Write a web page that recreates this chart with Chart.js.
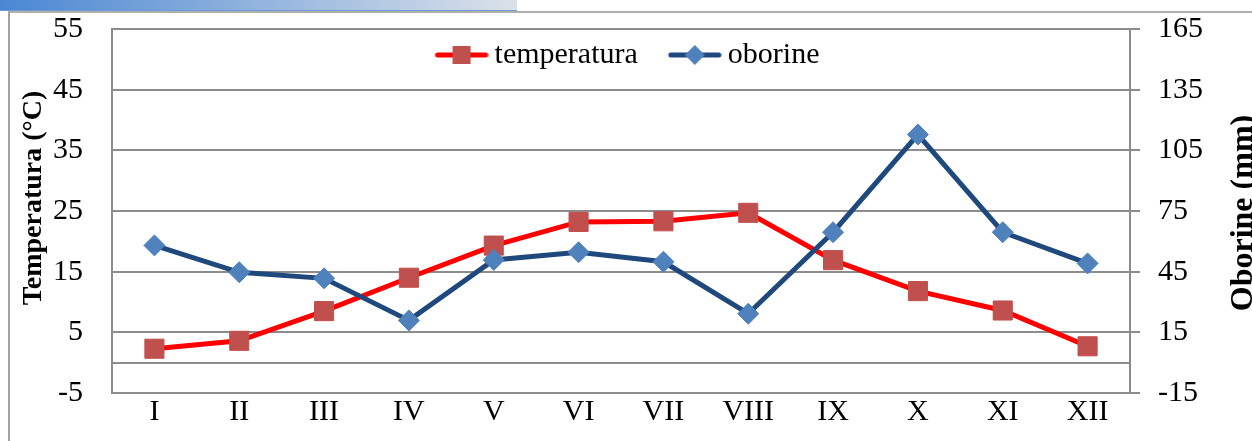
<!DOCTYPE html>
<html>
<head>
<meta charset="utf-8">
<script src="https://cdn.jsdelivr.net/npm/chart.js@4.4.1/dist/chart.umd.min.js"></script>
<style>
  html, body { margin: 0; padding: 0; background: #fff; }
  #wrap { position: relative; width: 1252px; height: 441px; overflow: hidden; }
  #topbar { position: absolute; left: 0; top: 0; width: 517px; height: 10px;
    background: linear-gradient(to right, #4a87d3, #dbe1e9); border-bottom: 1px solid #6d9ad3; }
  #frame { position: absolute; left: 8px; top: 11px; width: 1400px; height: 600px;
    border-left: 2px solid #a3a3a3; border-top: 2px solid #b0b0b0; }
  #chart { position: absolute; left: 0; top: 0; }
</style>
</head>
<body>
<div id="wrap">
  <div id="frame"></div>
  <div id="topbar"></div>
  <canvas id="chart" width="1252" height="441"></canvas>
</div>
<script>
'use strict';

// data
var months = ['I', 'II', 'III', 'IV', 'V', 'VI', 'VII', 'VIII', 'IX', 'X', 'XI', 'XII'];
var temperatura = [2.3, 3.6, 8.5, 14.0, 19.3, 23.2, 23.3, 24.7, 16.9, 11.8, 8.6, 2.7];
var oborine = [58.0, 44.7, 41.7, 20.9, 50.8, 54.6, 49.9, 24.2, 64.5, 112.8, 64.5, 49.1];
var tempTicks = [-5, 5, 15, 25, 35, 45, 55];
var oborineTicks = [-15, 15, 45, 75, 105, 135, 165];

var SERIF = '"Liberation Serif", "Times New Roman", serif';
var GRID = '#8c8c8c';

// legend icon: line with the marker in the middle
function legendIcon(lineColor, markerColor, shape) {
  var c = document.createElement('canvas');
  c.width = 56;
  c.height = 24;
  var g = c.getContext('2d');
  g.strokeStyle = lineColor;
  g.lineWidth = 5;
  g.lineCap = 'round';
  g.beginPath();
  g.moveTo(5, 12);
  g.lineTo(53, 12);
  g.stroke();
  g.fillStyle = markerColor;
  if (shape === 'rect') {
    g.fillRect(20, 3, 18, 18);
  } else {
    g.beginPath();
    g.moveTo(29, 2);
    g.lineTo(39, 12);
    g.lineTo(29, 22);
    g.lineTo(19, 12);
    g.closePath();
    g.fill();
  }
  return c;
}

var icons = [
  legendIcon('#ff0000', '#c0504d', 'rect'),
  legendIcon('#1f497d', '#4f81bd', 'diamond')
];

// y axes: keep the tick-label overhang from pushing the plot down
function fixY(width) {
  return function (scale) {
    scale.width = width;
    scale.paddingTop = 0;
    scale.paddingBottom = 0;
  };
}

// zero line, rotated axis titles, and let the legend draw over the plot top
var extras = {
  id: 'extras',
  beforeDraw: function (chart) {
    var lg = chart.legend;
    if (lg) {
      lg.height = 90;
      lg.bottom = lg.top + 90;
    }
  },
  beforeDatasetsDraw: function (chart) {
    var ctx = chart.ctx, area = chart.chartArea;
    var y0 = Math.round(chart.scales.y.getPixelForValue(0));
    ctx.save();
    ctx.strokeStyle = GRID;
    ctx.lineWidth = 2;
    ctx.beginPath();
    ctx.moveTo(area.left, y0);
    ctx.lineTo(area.right, y0);
    ctx.stroke();
    ctx.restore();
  },
  afterDraw: function (chart) {
    var ctx = chart.ctx;
    var titles = [
      { text: 'Temperatura (\u00B0C)', x: 34, y: 198, size: 28 },
      { text: 'Oborine (mm)', x: chart.width - 8, y: 213, size: 32 }
    ];
    ctx.save();
    ctx.fillStyle = '#000';
    ctx.textAlign = 'center';
    ctx.textBaseline = 'middle';
    titles.forEach(function (t) {
      ctx.save();
      ctx.font = 'bold ' + t.size + 'px ' + SERIF;
      ctx.translate(t.x, t.y);
      ctx.rotate(-Math.PI / 2);
      ctx.fillText(t.text, 0, 0);
      ctx.restore();
    });
    ctx.restore();
  }
};

var ctx = document.getElementById('chart').getContext('2d');
var chart = new Chart(ctx, {
  type: 'line',
  data: {
    labels: months,
    datasets: [{
      label: 'temperatura',
      data: temperatura,
      yAxisID: 'y',
      order: 2,
      borderColor: '#ff0000',
      borderWidth: 5,
      tension: 0,
      fill: false,
      pointStyle: 'rect',
      pointRadius: 13.5,
      pointBackgroundColor: '#c0504d',
      pointBorderColor: '#c0504d',
      pointBorderWidth: 1
    }, {
      label: 'oborine',
      data: oborine,
      yAxisID: 'y1',
      order: 1,
      borderColor: '#1f497d',
      borderWidth: 5,
      tension: 0,
      fill: false,
      pointStyle: 'rectRot',
      pointRadius: 10.5,
      pointBackgroundColor: '#4f81bd',
      pointBorderColor: '#4f81bd',
      pointBorderWidth: 1
    }]
  },
  options: {
    responsive: false,
    animation: false,
    devicePixelRatio: 1,
    layout: { padding: { left: 9, right: 0, top: 3, bottom: 0 } },
    plugins: {
      tooltip: { enabled: false },
      legend: {
        position: 'top',
        align: 'center',
        maxHeight: 26,
        labels: {
          usePointStyle: true,
          pointStyleWidth: 38,
          padding: 37,
          color: '#000',
          font: { family: SERIF, size: 30 },
          generateLabels: function (chart) {
            return chart.data.datasets.map(function (ds, i) {
              return {
                text: ds.label,
                pointStyle: icons[i],
                fillStyle: 'transparent',
                strokeStyle: 'transparent',
                lineWidth: 0,
                hidden: false,
                datasetIndex: i,
                fontColor: '#000'
              };
            });
          }
        }
      }
    },
    scales: {
      x: {
        offset: true,
        grid: { display: false },
        border: { display: true, color: GRID, width: 2 },
        ticks: { color: '#000', font: { family: SERIF, size: 30 }, padding: -7, maxRotation: 0 },
        afterFit: function (scale) { scale.height = 48; }
      },
      y: {
        position: 'left',
        min: -5,
        max: 55,
        afterBuildTicks: function (scale) {
          scale.ticks = tempTicks.map(function (v) { return { value: v }; });
        },
        grid: { color: GRID, lineWidth: 2, drawTicks: false },
        border: { display: true, color: GRID, width: 2 },
        ticks: { color: '#000', font: { family: SERIF, size: 30 }, padding: 29 },
        afterFit: fixY(103)
      },
      y1: {
        position: 'right',
        min: -15,
        max: 165,
        afterBuildTicks: function (scale) {
          scale.ticks = oborineTicks.map(function (v) { return { value: v }; });
        },
        grid: { color: GRID, lineWidth: 2, drawOnChartArea: false, drawTicks: true, tickLength: 10 },
        border: { display: true, color: GRID, width: 2 },
        ticks: { color: '#000', font: { family: SERIF, size: 30 }, padding: 18 },
        afterFit: fixY(122)
      }
    }
  },
  plugins: [extras]
});
</script>
</body>
</html>
